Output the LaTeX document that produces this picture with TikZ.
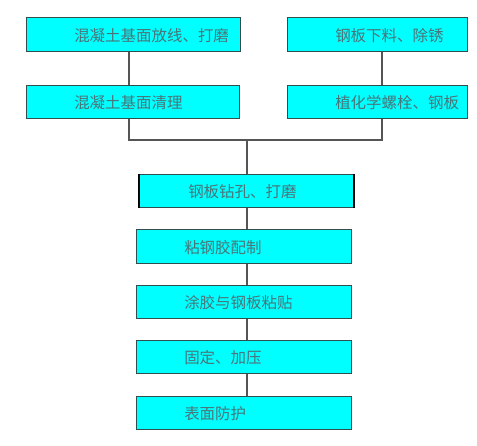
\documentclass[tikz,border=0pt]{standalone}
\usepackage{fontspec}
\newfontfamily\cjk{Noto Sans CJK SC}
\definecolor{boxfill}{HTML}{00FFFF}
\definecolor{boxline}{HTML}{2F4F4F}
\definecolor{txt}{HTML}{4A7478}
\definecolor{conn}{HTML}{555555}
\begin{document}
\begin{tikzpicture}[x=0.75pt,y=-0.75pt,
  stepbox/.style={draw=boxline,fill=boxfill,line width=0.9pt,inner sep=0pt,anchor=north west},
  lbl/.style={anchor=west,text=txt,font=\cjk\fontsize{11.6pt}{13pt}\selectfont,inner sep=0pt},
  conn/.style={draw=conn,line width=0.8pt}]
\useasboundingbox (0,0) rectangle (477,445);
% top boxes
\node[stepbox,minimum width=160.5pt,minimum height=25.5pt] (n1) at (26,17) {};
\node[lbl] (t1) at (74,36) {混凝土基面放线、打磨};
\node[stepbox,minimum width=135pt,minimum height=25.5pt] (n2) at (287,17) {};
\node[lbl] (t2) at (335,36) {钢板下料、除锈};
\node[stepbox,minimum width=159.75pt,minimum height=24.75pt] (n3) at (26,85) {};
\node[lbl] (t3) at (74,103) {混凝土基面清理};
\node[stepbox,minimum width=135pt,minimum height=24.75pt] (n4) at (287,85) {};
\node[lbl] (t4) at (335,103) {植化学螺栓、钢板};
% lower chain
\node[stepbox,minimum width=160.5pt,minimum height=24.75pt] (n5) at (139,174) {};
\draw[line width=1.6pt,black] (n5.north west) -- (n5.south west) (n5.north east) -- (n5.south east);
\node[lbl] (t5) at (188,192) {钢板钻孔、打磨};
\node[stepbox,minimum width=161.25pt,minimum height=25.5pt] (n6) at (136,229) {};
\node[lbl] (t6) at (184,248) {粘钢胶配制};
\node[stepbox,minimum width=161.25pt,minimum height=24.75pt] (n7) at (136,285) {};
\node[lbl] (t7) at (184,303) {涂胶与钢板粘贴};
\node[stepbox,minimum width=161.25pt,minimum height=24.75pt] (n8) at (136,340) {};
\node[lbl] (t8) at (184,358) {固定、加压};
\node[stepbox,minimum width=161.25pt,minimum height=24.75pt] (n9) at (136,396) {};
\node[lbl] (t9) at (184,414) {表面防护};
% connectors
\coordinate (xl) at (129,0);
\coordinate (xr) at (382,0);
\coordinate (xc) at (247,0);
\coordinate (jl) at (129,140);
\coordinate (jr) at (382,140);
\coordinate (jc) at (247,140);
\draw[conn] (n1.south -| xl) -- (n3.north -| xl);
\draw[conn] (n2.south -| xr) -- (n4.north -| xr);
\draw[conn] (n3.south -| xl) -- (jl) -- (jr) -- (n4.south -| xr);
\draw[conn] (jc) -- (n5.north -| xc);
\draw[conn] (n5.south -| xc) -- (n6.north -| xc);
\draw[conn] (n6.south -| xc) -- (n7.north -| xc);
\draw[conn] (n7.south -| xc) -- (n8.north -| xc);
\draw[conn] (n8.south -| xc) -- (n9.north -| xc);
\end{tikzpicture}
\end{document}
